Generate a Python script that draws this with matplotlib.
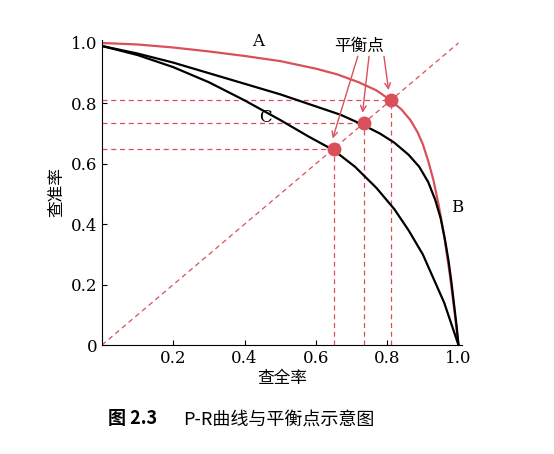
import matplotlib
matplotlib.use("Agg")
import matplotlib.pyplot as plt

plt.rcParams['font.family'] = ['DejaVu Serif', 'Noto Sans CJK SC']

ax_x = [0.0, 0.1, 0.2, 0.3, 0.4, 0.5, 0.6, 0.66, 0.72, 0.77, 0.81, 0.84, 0.865, 0.885, 0.9, 0.915, 0.93, 0.945, 0.96, 0.975, 0.99, 1.0]
ax_y = [1.0, 0.995, 0.985, 0.972, 0.957, 0.94, 0.915, 0.896, 0.87, 0.843, 0.81, 0.78, 0.745, 0.705, 0.665, 0.61, 0.545, 0.46, 0.36, 0.24, 0.1, 0.0]
bx = [0.0, 0.1, 0.2, 0.3, 0.4, 0.5, 0.6, 0.67, 0.73, 0.78, 0.82, 0.86, 0.89, 0.915, 0.935, 0.95, 0.962, 0.972, 0.98, 0.988, 0.995, 1.0]
by = [0.99, 0.965, 0.935, 0.9, 0.865, 0.83, 0.79, 0.762, 0.73, 0.7, 0.67, 0.63, 0.59, 0.54, 0.48, 0.42, 0.35, 0.28, 0.21, 0.13, 0.06, 0.0]
cx = [0.0, 0.1, 0.2, 0.3, 0.4, 0.5, 0.58, 0.65, 0.71, 0.77, 0.82, 0.86, 0.9, 0.93, 0.96, 0.98, 1.0]
cy = [0.99, 0.96, 0.92, 0.87, 0.81, 0.745, 0.69, 0.645, 0.59, 0.52, 0.45, 0.38, 0.3, 0.22, 0.14, 0.07, 0.0]
bep = [0.65, 0.735, 0.81]

red = '#d9505a'
fig = plt.figure(figsize=(5.54, 4.54), dpi=100)
ax = fig.add_axes([0.184, 0.24, 0.65, 0.672])
ds = (0, (4, 3))
ax.plot([0, 1], [0, 1], ls=ds, color=red, lw=0.9)
for v in bep:
    ax.plot([0, v], [v, v], ls=ds, color=red, lw=0.9)
    ax.plot([v, v], [0, v], ls=ds, color=red, lw=0.9)
ax.plot(ax_x, ax_y, color=red, lw=1.6)
ax.plot(bx, by, color='black', lw=1.6)
ax.plot(cx, cy, color='black', lw=1.6)
ax.plot(bep, bep, 'o', color=red, ms=9, zorder=5)

ax.text(0.42, 0.99, 'A', fontsize=12)
ax.text(0.98, 0.44, 'B', fontsize=12)
ax.text(0.44, 0.74, 'C', fontsize=12)
ax.text(0.72, 0.975, '平衡点', fontsize=12, ha='center', family=['Noto Sans CJK SC'])
for v, sx in zip(bep, [0.69, 0.72, 0.76]):
    ax.annotate('', xy=(v - 0.005, v + 0.025), xytext=(sx + 0.03, 0.965),
                arrowprops=dict(arrowstyle='->', color=red, lw=1))

ax.set_xlim(0, 1.01)
ax.set_ylim(0, 1.01)
ax.set_xticks([0.2, 0.4, 0.6, 0.8, 1.0])
ax.set_xticklabels(['0.2', '0.4', '0.6', '0.8', '1.0'])
ax.set_yticks([0, 0.2, 0.4, 0.6, 0.8, 1.0])
ax.set_yticklabels(['0', '0.2', '0.4', '0.6', '0.8', '1.0'])
ax.tick_params(direction='in', labelsize=12)
for s in ['top', 'right']:
    ax.spines[s].set_visible(False)
ax.set_xlabel('查全率', fontsize=12, family=['Noto Sans CJK SC'], labelpad=2)
ax.set_ylabel('查准率', fontsize=12, family=['Noto Sans CJK SC'])

fig.text(0.195, 0.065, '图 2.3', fontsize=13, fontweight='bold', family=['Noto Sans CJK SC'])
fig.text(0.33, 0.065, 'P-R曲线与平衡点示意图', fontsize=13, family=['Noto Sans CJK SC', 'DejaVu Serif'])
fig.savefig('out.png', dpi=100)
